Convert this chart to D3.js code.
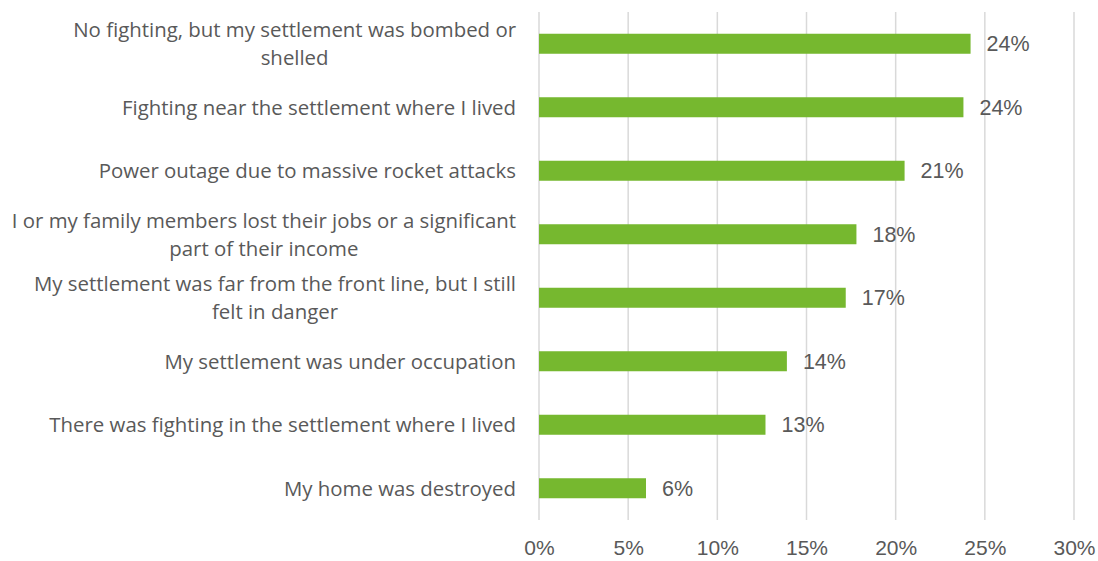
<!DOCTYPE html>
<html>
<head>
<meta charset="utf-8">
<script src="https://cdn.jsdelivr.net/npm/d3@7"></script>
<style>
  html, body { margin: 0; padding: 0; background: #ffffff; }
  svg { display: block; }
  text { fill: #595959; }
  .cat { font-family: "Open Sans", Lato, sans-serif; }
  .num { font-family: "Liberation Sans", Arial, sans-serif; }
</style>
</head>
<body>
<svg id="chart" width="1098" height="561"></svg>
<script>
// Reasons reported (top to bottom); "\n" marks a line break in the label
const categories = [
  "No fighting, but my settlement was bombed or\nshelled",
  "Fighting near the settlement where I lived",
  "Power outage due to massive rocket attacks",
  "I or my family members lost their jobs or a significant\npart of their income",
  "My settlement was far from the front line, but I still\nfelt in danger",
  "My settlement was under occupation",
  "There was fighting in the settlement where I lived",
  "My home was destroyed"
];
// Share of respondents
const values = [0.242, 0.238, 0.205, 0.178, 0.172, 0.139, 0.127, 0.06];
const xTicks = [0, 0.05, 0.10, 0.15, 0.20, 0.25, 0.30];

const svg = d3.select("#chart");
const plot = { left: 539, right: 1074, top: 12, bottom: 520 };
const pct = d3.format(".0%");

const x = d3.scaleLinear().domain([0, 0.30]).range([plot.left, plot.right]);
const y = d3.scaleBand()
  .domain(categories)
  .range([plot.top, plot.bottom])
  .paddingInner(0.685)
  .paddingOuter(0.3425);

// Vertical gridlines
svg.append("g")
  .selectAll("line")
  .data(xTicks)
  .join("line")
  .attr("x1", d => x(d)).attr("x2", d => x(d))
  .attr("y1", plot.top).attr("y2", plot.bottom)
  .attr("stroke", "#d9d9d9")
  .attr("stroke-width", 1.5);

// Bottom axis tick labels
const xAxis = d3.axisBottom(x).tickValues(xTicks).tickFormat(pct).tickSize(0).tickPadding(0);
const gx = svg.append("g").attr("transform", `translate(0,${plot.bottom + 20})`).call(xAxis);
gx.select(".domain").remove();
gx.selectAll("text")
  .attr("class", "num")
  .attr("dy", "0.71em")
  .attr("font-family", null)
  .style("font-size", "21px")
  .attr("fill", "#595959");

// Bars
svg.append("g")
  .selectAll("rect")
  .data(values)
  .join("rect")
  .attr("x", x(0))
  .attr("y", (d, i) => y(categories[i]))
  .attr("width", d => x(d) - x(0))
  .attr("height", y.bandwidth())
  .attr("fill", "#76b82f");

// Value labels
svg.append("g")
  .selectAll("text")
  .data(values)
  .join("text")
  .attr("class", "num")
  .attr("x", d => x(d) + 16)
  .attr("y", (d, i) => y(categories[i]) + y.bandwidth() / 2)
  .attr("dy", "0.36em")
  .style("font-size", "21.5px")
  .text(d => pct(d));

// Category labels: block right-aligned to the axis, lines centred within the block
const labelRight = 516;
const lineH = 28;
const catG = svg.append("g");
categories.forEach((c, i) => {
  const lines = c.split("\n");
  const cy = y(c) + y.bandwidth() / 2;
  const t = catG.append("text")
    .attr("class", "cat")
    .style("font-size", "20.4px")
    .attr("text-anchor", "middle");
  const spans = lines.map((ln, k) =>
    t.append("tspan")
      .attr("y", cy + (k - (lines.length - 1) / 2) * lineH)
      .attr("dy", "0.36em")
      .text(ln));
  const widths = spans.map(s => s.node().getComputedTextLength());
  const blockW = d3.max(widths);
  spans.forEach(s => s.attr("x", labelRight - blockW / 2));
});
</script>
</body>
</html>
